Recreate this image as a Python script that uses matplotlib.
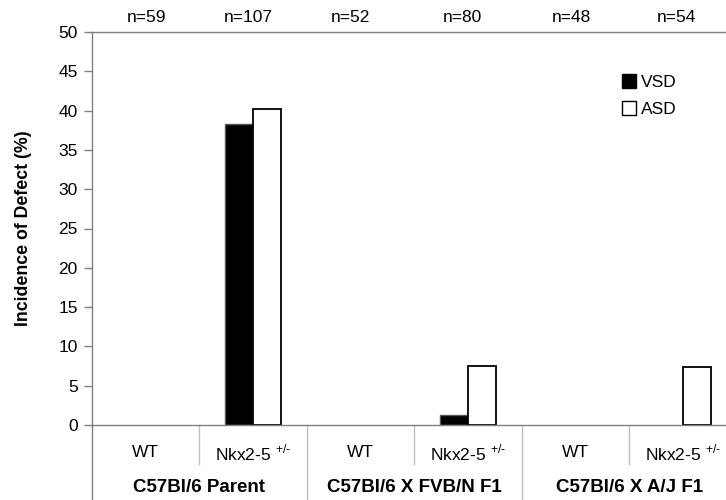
import matplotlib
matplotlib.use("Agg")
import matplotlib.pyplot as plt
import matplotlib.transforms as mtransforms
from matplotlib.lines import Line2D
import numpy as np

plt.rcParams['font.family'] = ['Liberation Sans', 'DejaVu Sans']
plt.rcParams['mathtext.fontset'] = 'custom'
plt.rcParams['mathtext.rm'] = 'Liberation Sans'

# data
genotypes = ['WT', 'Nkx2-5 $^{\\mathrm{+/\u2010}}$', 'WT', 'Nkx2-5 $^{\\mathrm{+/\u2010}}$',
             'WT', 'Nkx2-5 $^{\\mathrm{+/\u2010}}$']
strains = ['C57Bl/6 Parent', 'C57Bl/6 X FVB/N F1', 'C57Bl/6 X A/J F1']
n_labels = ['n=59', 'n=107', 'n=52', 'n=80', 'n=48', 'n=54']
vsd = [0, 38.3, 0, 1.25, 0, 0]
asd = [0, 40.2, 0, 7.5, 0, 7.4]

n_shift = [0.01, -0.04, -0.09, -0.05, -0.04, -0.06]

fig = plt.figure(figsize=(7.26, 5.0), dpi=100)
# axes runs a bit past the right edge of the figure, like the original
ax = fig.add_axes([91.7/726, 75/500, 645.3/726, 393/500])

x = np.arange(len(genotypes))
w = 0.26
# no outline on empty bars
lw_v = [1.0 if v > 0 else 0 for v in vsd]
lw_a = [1.3 if v > 0 else 0 for v in asd]
ax.bar(x - w/2, vsd, w, color='black', edgecolor='#555555', linewidth=lw_v, label='VSD')
ax.bar(x + w/2, asd, w, color='white', edgecolor='black', linewidth=lw_a, label='ASD')

ax.set_xlim(-0.5, 5.5)
ax.set_ylim(0, 50)
ax.set_yticks(np.arange(0, 51, 5))
ax.set_xticks([])
ax.tick_params(axis='y', direction='out', length=6, width=1, color='#808080', labelsize=12.5, pad=4)

for s in ['left', 'top', 'bottom']:
    ax.spines[s].set_color('#808080')
    ax.spines[s].set_linewidth(1.0)
ax.spines['right'].set_visible(False)

ax.set_ylabel('Incidence of Defect (%)', fontsize=12.8, fontweight='bold')
ax.yaxis.set_label_coords(-0.092, 0.5)

# n labels above the plot
for i, t in enumerate(n_labels):
    ax.text(i + n_shift[i], 51.8, t, ha='center', va='center', fontsize=12.5, clip_on=False)

# two-level category axis
trans = mtransforms.blended_transform_factory(ax.transData, ax.transAxes)
row1_y = -0.0712
row2_y = -0.158
for i, t in enumerate(genotypes):
    ax.text(i, row1_y, t, transform=trans, ha='center', va='center', fontsize=12.5)
for j, t in enumerate(strains):
    ax.text(2*j + 0.5, row2_y, t, transform=trans, ha='center', va='center',
            fontsize=13.5, fontweight='bold')

for i in range(len(genotypes) + 1):
    xb = i - 0.5
    y_end = -0.1908 if i % 2 == 0 else -0.0992
    col = '#808080' if i == 0 else '#c0c0c0'
    ax.add_line(Line2D([xb, xb], [0, y_end], transform=trans, color=col,
                       linewidth=1.0, clip_on=False))

handles = [Line2D([], [], marker='s', linestyle='none', markersize=9.5,
                  markerfacecolor='black', markeredgecolor='black'),
           Line2D([], [], marker='s', linestyle='none', markersize=9.5,
                  markerfacecolor='white', markeredgecolor='black', markeredgewidth=1.0)]
fig.legend(handles, ['VSD', 'ASD'], loc='upper left', bbox_to_anchor=(620/726, 1 - 74.5/500),
           frameon=False, fontsize=12.5, handlelength=1.0, handletextpad=0.2,
           borderpad=0, borderaxespad=0, labelspacing=0.68)

fig.savefig('out.png', dpi=100)
